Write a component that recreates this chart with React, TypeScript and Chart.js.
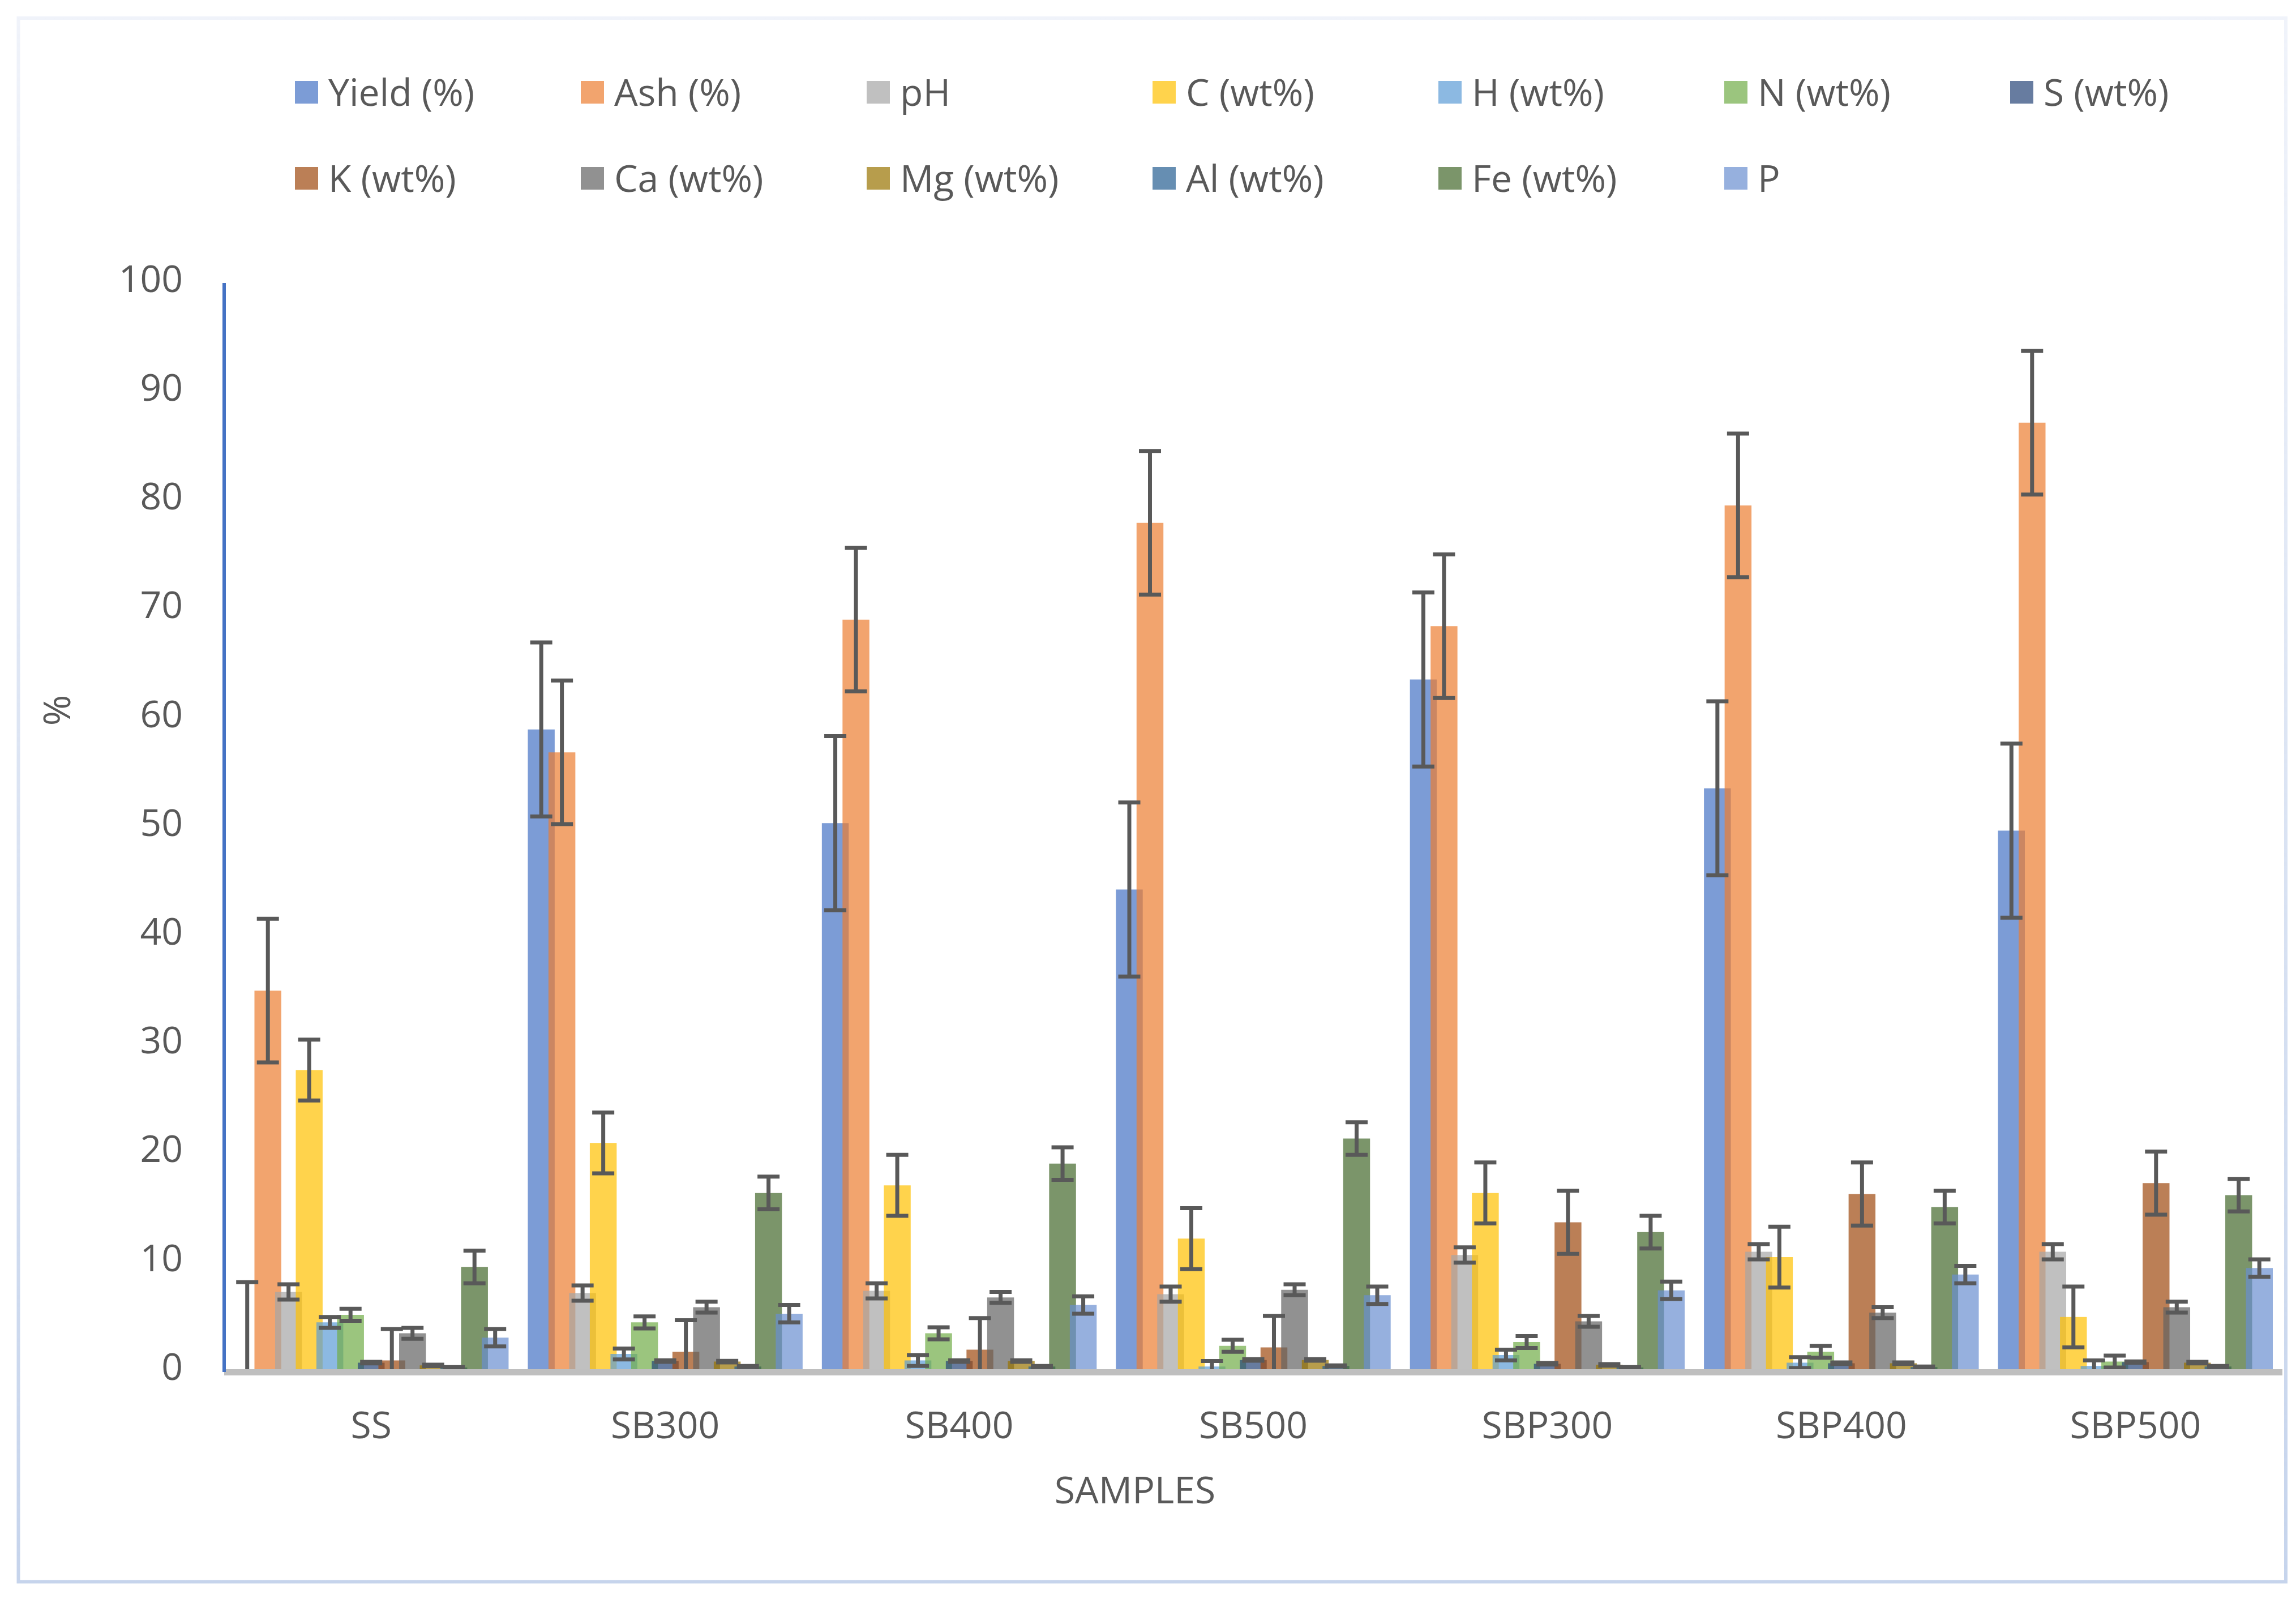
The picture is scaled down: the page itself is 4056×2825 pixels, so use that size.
import React, { useEffect, useRef } from 'react';
import { Chart, registerables } from 'chart.js';

Chart.register(...registerables);

const W = 4056;
const H = 2825;

const categories = ['SS', 'SB300', 'SB400', 'SB500', 'SBP300', 'SBP400', 'SBP500'];
const seriesNames = ['Yield (%)', 'Ash (%)', 'pH', 'C (wt%)', 'H (wt%)', 'N (wt%)', 'S (wt%)', 'K (wt%)', 'Ca (wt%)', 'Mg (wt%)', 'Al (wt%)', 'Fe (wt%)', 'P'];

const yieldPct = [0, 58.8, 50.2, 44.1, 63.4, 53.4, 49.5];
const ashPct = [34.8, 56.7, 68.9, 77.8, 68.3, 79.4, 87.0];
const pH = [7.1, 7.0, 7.2, 6.9, 10.5, 10.8, 10.8];
const cWt = [27.5, 20.8, 16.9, 12.0, 16.2, 10.3, 4.8];
const hWt = [4.3, 1.4, 0.8, 0.25, 1.3, 0.6, 0.3];
const nWt = [5.0, 4.3, 3.3, 2.15, 2.5, 1.6, 0.7];
const sWt = [0.6, 0.75, 0.75, 0.85, 0.5, 0.55, 0.65];
const kWt = [0.8, 1.6, 1.8, 2.0, 13.5, 16.1, 17.1];
const caWt = [3.3, 5.7, 6.6, 7.3, 4.4, 5.2, 5.7];
const mgWt = [0.35, 0.7, 0.75, 0.85, 0.4, 0.55, 0.6];
const alWt = [0.15, 0.25, 0.25, 0.3, 0.15, 0.2, 0.25];
const feWt = [9.4, 16.2, 18.9, 21.2, 12.6, 14.9, 16.0];
const pVal = [2.9, 5.1, 5.9, 6.8, 7.25, 8.7, 9.3];

const seriesData = [yieldPct, ashPct, pH, cWt, hWt, nWt, sWt, kWt, caWt, mgWt, alWt, feWt, pVal];
const seriesErrors = [8, 6.6, 0.7, 2.8, 0.5, 0.55, 0.07, 2.9, 0.5, 0.07, 0.05, 1.5, 0.8];
const seriesColors = ['#4472C4', '#ED7D31', '#A5A5A5', '#FFC000', '#5B9BD5', '#70AD47', '#264478', '#9E480E', '#636363', '#997300', '#255E91', '#43682B', '#698ED0'];

const yMin = 0;
const yMax = 100;
const yStep = 10;

const FONT = '"Open Sans", sans-serif';
const FS = 66;
const TEXT = '#595959';
const CAP = 0.357 * FS;

function rgba(hex: string, a: number) {
  const r = parseInt(hex.slice(1, 3), 16);
  const g = parseInt(hex.slice(3, 5), 16);
  const b = parseInt(hex.slice(5, 7), 16);
  return `rgba(${r},${g},${b},${a})`;
}

const ALPHA = 0.7;

const decorPlugin = {
  id: 'decor',
  beforeDraw(chart: any) {
    const ctx = chart.ctx as CanvasRenderingContext2D;
    ctx.save();
    ctx.fillStyle = '#ffffff';
    ctx.fillRect(0, 0, W, H);
    // outer frame
    const g = ctx.createLinearGradient(0, 30, 0, 2797);
    g.addColorStop(0, '#F0F3FA');
    g.addColorStop(1, '#C6D4EC');
    ctx.strokeStyle = g;
    ctx.lineWidth = 6;
    ctx.strokeRect(32.5, 32, 4038 - 32.5, 2794.5 - 32);

    // legend
    ctx.font = `${FS}px ${FONT}`;
    ctx.textAlign = 'left';
    ctx.textBaseline = 'alphabetic';
    for (let i = 0; i < seriesNames.length; i++) {
      const row = i < 7 ? 0 : 1;
      const col = i < 7 ? i : i - 7;
      const bx = 521 + col * 505;
      const cy = row === 0 ? 163 : 315;
      ctx.fillStyle = rgba(seriesColors[i], ALPHA);
      ctx.fillRect(bx, cy - 20, 41, 40);
      ctx.fillStyle = TEXT;
      ctx.fillText(seriesNames[i], bx + 59, cy + CAP);
    }

    // axis titles
    ctx.fillStyle = TEXT;
    ctx.textAlign = 'center';
    ctx.fillText('SAMPLES', 2005, 2632 + CAP);
    ctx.save();
    ctx.translate(100, 1255);
    ctx.rotate(-Math.PI / 2);
    ctx.fillText('%', 0, CAP);
    ctx.restore();
    ctx.restore();
  },
  beforeDatasetsDraw(chart: any) {
    const ctx = chart.ctx as CanvasRenderingContext2D;
    const { left, right, top, bottom } = chart.chartArea;
    ctx.save();
    ctx.fillStyle = '#BFBFBF';
    ctx.fillRect(left, bottom, right - left, 11);
    ctx.fillStyle = '#4472C4';
    ctx.fillRect(left - 3, top + 3, 6, bottom + 5 - (top + 3));
    ctx.restore();

    for (let i = 0; i < seriesData.length; i++) {
      const meta = chart.getDatasetMeta(i);
      meta.controller.draw();
    }

    const ys = chart.scales.y;
    ctx.save();
    ctx.beginPath();
    ctx.rect(left, top - 10, right - left, bottom - top + 10);
    ctx.clip();
    ctx.strokeStyle = '#595959';
    ctx.lineWidth = 7;
    ctx.lineCap = 'butt';
    const capHalf = 19.5;
    for (let i = 0; i < seriesData.length; i++) {
      const meta = chart.getDatasetMeta(i);
      const err = seriesErrors[i];
      meta.data.forEach((el: any, j: number) => {
        const v = seriesData[i][j];
        const x = el.x;
        const hiV = Math.min(v + err, yMax);
        const loV = Math.max(v - err, yMin);
        const yHi = ys.getPixelForValue(hiV);
        const yLo = ys.getPixelForValue(loV);
        ctx.beginPath();
        ctx.moveTo(x, yHi);
        ctx.lineTo(x, yLo);
        if (v + err <= yMax) {
          ctx.moveTo(x - capHalf, yHi);
          ctx.lineTo(x + capHalf, yHi);
        }
        if (v - err >= yMin) {
          ctx.moveTo(x - capHalf, yLo);
          ctx.lineTo(x + capHalf, yLo);
        }
        ctx.stroke();
      });
    }
    ctx.restore();
    return false;
  },
};

export default function App() {
  const ref = useRef<HTMLCanvasElement>(null);
  useEffect(() => {
    const canvas = ref.current;
    if (!canvas) return;
    const chart = new Chart(canvas, {
      type: 'bar',
      data: {
        labels: categories,
        datasets: seriesNames.map((name, i) => ({
          label: name,
          data: seriesData[i],
          backgroundColor: rgba(seriesColors[i], ALPHA),
          borderWidth: 0,
          categoryPercentage: 0.9135,
          barPercentage: 1.3,
        })),
      },
      options: {
        responsive: false,
        animation: false,
        devicePixelRatio: 1,
        events: [],
        layout: { padding: { top: 497, left: 0, right: 24, bottom: 0 } },
        plugins: {
          legend: { display: false },
          tooltip: { enabled: false },
          title: { display: false },
        },
        scales: {
          x: {
            grid: { display: false, drawTicks: false },
            border: { display: false },
            ticks: {
              color: TEXT,
              font: { family: FONT, size: FS },
              padding: 64,
              maxRotation: 0,
              autoSkip: false,
            },
            afterFit: (s: any) => {
              s.height = H - 2419;
            },
          },
          y: {
            min: yMin,
            max: yMax,
            grid: { display: false, drawTicks: false },
            border: { display: false },
            ticks: {
              stepSize: yStep,
              color: TEXT,
              font: { family: FONT, size: FS },
              padding: 73,
            },
            afterFit: (s: any) => {
              s.width = 396;
            },
          },
        },
      },
      plugins: [decorPlugin],
    } as any);
    return () => chart.destroy();
  }, []);
  return (
    <div style={{ position: 'fixed', left: 0, top: 0, width: W, height: H, background: '#fff' }}>
      <canvas ref={ref} width={W} height={H} style={{ width: W, height: H, display: 'block' }} />
    </div>
  );
}
